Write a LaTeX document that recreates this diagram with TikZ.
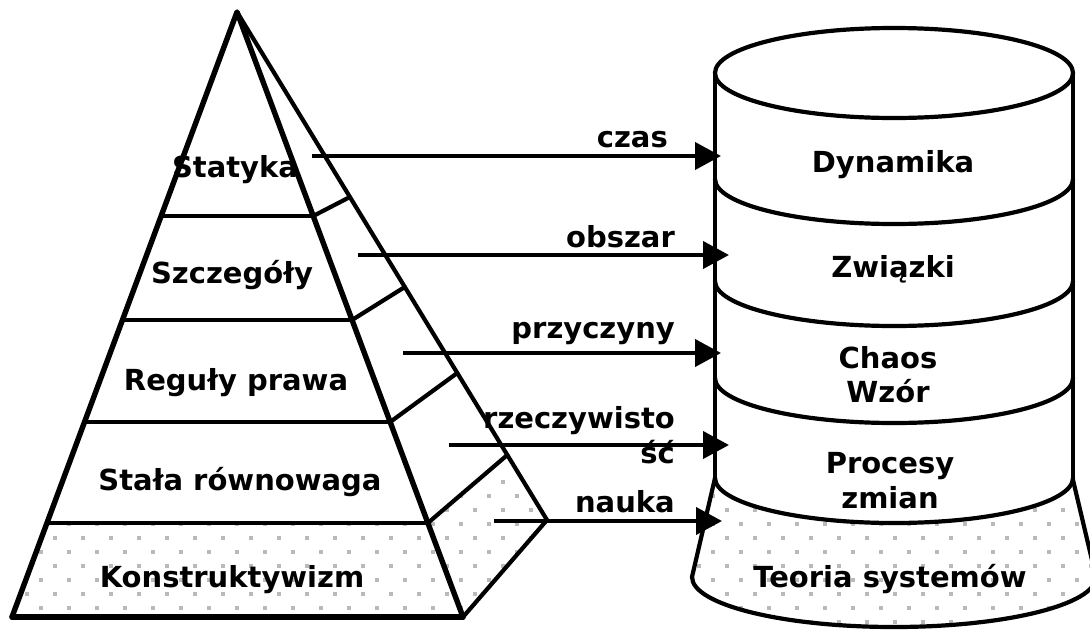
\documentclass[tikz,border=0pt]{standalone}
\usepackage{fontspec}
\setmainfont{DejaVu Sans}
\usetikzlibrary{arrows.meta,calc}
\newcommand\mydots[4]{%
  \foreach \k in {#3,...,#4}{\foreach \j in {#1,...,#2}{%
    \fill[dotc] ({-1+28*\j+14*mod(\k,2)-1.7},{454+14*\k-1.7}) rectangle ++(3.4,3.4);}}}
\begin{document}
\begin{tikzpicture}[x=1pt,y=-1pt,
  lab/.style={font=\fontsize{29}{34}\selectfont\bfseries, inner sep=0pt, anchor=base},
  rlab/.style={lab, anchor=base east},
  edge/.style={line width=4.2pt, line join=round, line cap=round},
  thickedge/.style={line width=5.4pt, line join=round, line cap=round},
  arr/.style={line width=4pt, -{Triangle[length=26pt,width=27pt]}},
  dotc/.style={fill=black!27}]
\useasboundingbox (0,0) rectangle (1090,630);

% ---------- pyramid corners
\coordinate (A) at (237,12);
\coordinate (BL) at (12,617);
\coordinate (BR) at (463,617);
\coordinate (BV) at (547,520);

% dotted base of pyramid
\begin{scope}
  \clip ($(A)!0.8446!(BL)$) -- ($(A)!0.8446!(BR)$) -- ($(A)!0.8720!(BV)$) -- (BV) -- (BR) -- (BL) -- cycle;
  \mydots{0}{20}{0}{12}
\end{scope}

% ---------- cylinder bottom dotted
\begin{scope}
  \clip (715,478) arc[start angle=180, end angle=0, x radius=179, y radius=45]
        -- (1096,577) arc[start angle=0, end angle=180, x radius=202, y radius=50] -- cycle;
  \mydots{24}{40}{1}{13}
\end{scope}

% pyramid outline
\draw[thickedge] (BL) -- (A) -- (BR);
\draw[thickedge] (BL) -- (BR);
\draw[edge] (A) -- (BV) -- (BR);
% horizontal layer lines
\foreach \t in {0.3372,0.5091,0.6777,0.8446}
  \draw[edge] ($(A)!\t!(BL)$) -- ($(A)!\t!(BR)$);
% side face lines
\draw[edge] ($(A)!0.3372!(BR)$) -- ($(A)!0.3642!(BV)$);
\draw[edge] ($(A)!0.5091!(BR)$) -- ($(A)!0.5413!(BV)$);
\draw[edge] ($(A)!0.6777!(BR)$) -- ($(A)!0.7106!(BV)$);
\draw[edge] ($(A)!0.8446!(BR)$) -- ($(A)!0.8720!(BV)$);

% pyramid labels
\node[lab] (statyka) at (235,177) {Statyka};
\node[lab] (szczegoly) at (232,283) {Szczegóły};
\node[lab] (reguly) at (236,390) {Reguły prawa};
\node[lab] (stala) at (240,490) {Stała równowaga};
\node[lab] (konstr) at (232,587) {Konstruktywizm};

% ---------- cylinder
\draw[edge] (894,73) ellipse [x radius=179, y radius=45];
\draw[edge] (715,73) -- (715,478);
\draw[edge] (1073,73) -- (1073,480);
\foreach \yy in {179,281,378,478}
  \draw[edge] (715,\yy) arc[start angle=180, end angle=0, x radius=179, y radius=45];
\draw[edge] (715,478) -- (692,577);
\draw[edge] (1073,480) -- (1096,577);
\draw[edge] (692,577) arc[start angle=180, end angle=0, x radius=202, y radius=50];

% cylinder labels
\node[lab] (dyn) at (893,172) {Dynamika};
\node[lab] (zwi) at (893,277) {Związki};
\node[lab] (chaos) at (888,368) {Chaos};
\node[lab] (wzor) at (888,402) {Wzór};
\node[lab] (proc) at (890,473) {Procesy};
\node[lab] (zmian) at (890,508) {zmian};
\node[lab] (teoria) at (890,587) {Teoria systemów};

% ---------- arrows
\coordinate (s1) at (312,156); \coordinate (e1) at (721,156);
\coordinate (s2) at (358,255); \coordinate (e2) at (729,255);
\coordinate (s3) at (403,353); \coordinate (e3) at (721,353);
\coordinate (s4) at (449,445); \coordinate (e4) at (729,445);
\coordinate (s5) at (494,521); \coordinate (e5) at (722,521);
\draw[arr] (s1) -- (e1);
\draw[arr] (s2) -- (e2);
\draw[arr] (s3) -- (e3);
\draw[arr] (s4) -- (e4);
\draw[arr] (s5) -- (e5);

\node[rlab] (czas) at (668,147) {czas};
\node[rlab] (obszar) at (675,247) {obszar};
\node[rlab] (przy) at (675,338) {przyczyny};
\node[rlab] (rzecz1) at (675,428) {rzeczywisto};
\node[rlab] (rzecz2) at (675,463) {ść};
\node[rlab] (nauka) at (675,512) {nauka};
\end{tikzpicture}
\end{document}
